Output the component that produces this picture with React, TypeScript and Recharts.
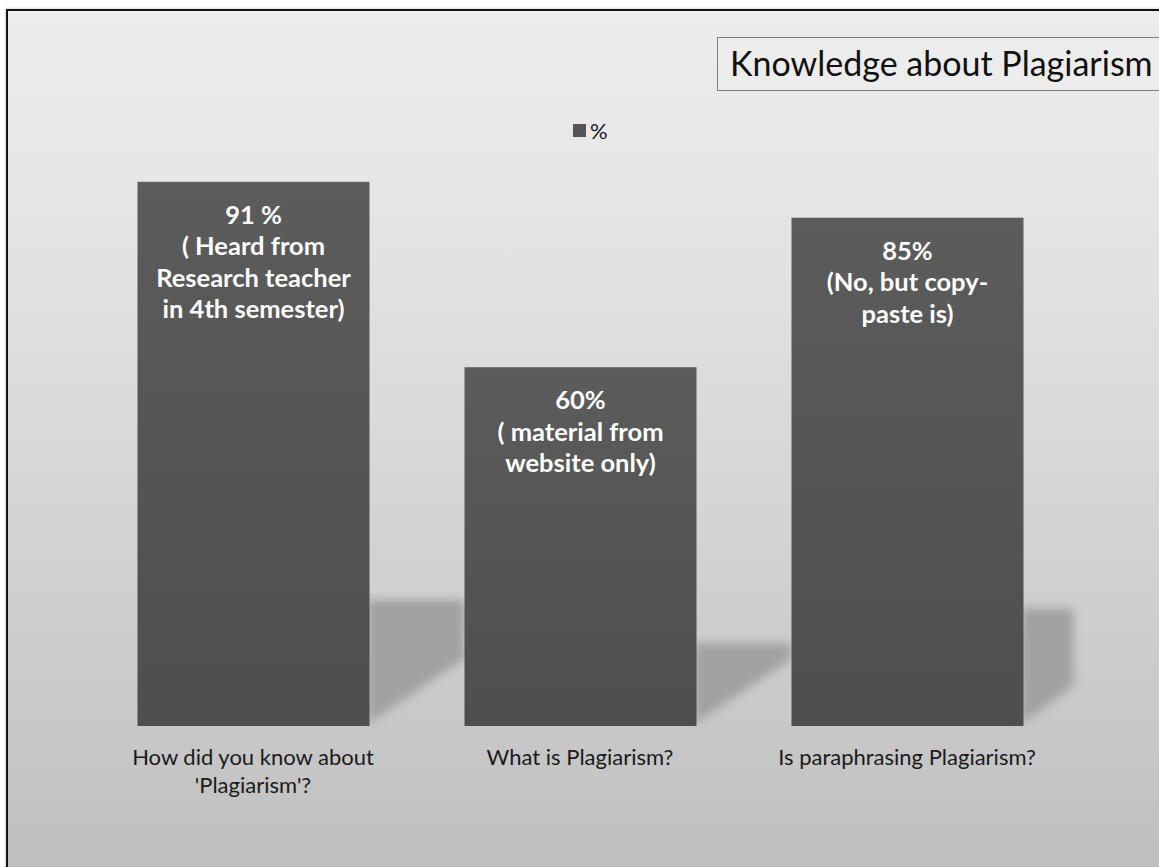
import { BarChart, Bar, XAxis, YAxis, Legend, LabelList } from "recharts";

const questions = [
  "How did you know about 'Plagiarism'?",
  "What is Plagiarism?",
  "Is paraphrasing Plagiarism?",
];
const questionLines = [
  ["How did you know about", "'Plagiarism'?"],
  ["What is Plagiarism?"],
  ["Is paraphrasing Plagiarism?"],
];
const percents = [91, 60, 85];
const barNotes = [
  ["91 %", "( Heard from", "Research teacher", "in 4th semester)"],
  ["60%", "( material from", "website only)"],
  ["85%", "(No, but copy-", "paste is)"],
];
const yTicks = [0, 20, 40, 60, 80, 100];

const data = questions.map((q, i) => ({
  question: q,
  value: percents[i],
  idx: i,
}));

const W = 1159;
const H = 867;
const PLOT_LEFT = 89.5;
const PLOT_RIGHT = 1070.5;
const PLOT_TOP = 128;
const PLOT_BOTTOM = 726;
const X_AXIS_H = 30;

function ShadowBar(props: any) {
  const { x, y, width, height } = props;
  const r = x + width;
  const b = y + height;
  const d = Math.min(95, PLOT_RIGHT + 3 - r);
  const sTop = b - height * 0.232;
  const points = [
    [r - 2, sTop],
    [r + d, sTop],
    [r + d, b - 10 - d * 0.6],
    [r + 4, b - 6],
    [r - 2, b],
  ]
    .map((p) => p.join(","))
    .join(" ");
  return (
    <g>
      <polygon points={points} fill="#a2a2a2" filter="url(#shadowBlur)" />
      <rect x={x} y={y} width={width} height={height} fill="url(#barFill)" />
    </g>
  );
}

function BarNote(props: any) {
  const { x, y, width, index } = props;
  const lines = barNotes[index] || [];
  return (
    <text
      x={x + width / 2}
      y={y + 32}
      textAnchor="middle"
      fill="#ffffff"
      fontFamily="Lato, 'Open Sans', sans-serif"
      fontWeight={700}
      fontSize={25.5}
    >
      {lines.map((l, i) => (
        <tspan key={i} x={x + width / 2} dy={i === 0 ? 0 : 31.5} dominantBaseline="central">
          {l}
        </tspan>
      ))}
    </text>
  );
}

function QuestionTick(props: any) {
  const { x, y, payload } = props;
  const lines = questionLines[payload.index] || [payload.value];
  return (
    <text
      x={x}
      y={y}
      textAnchor="middle"
      fill="#1a1a1a"
      fontFamily="Lato, 'Open Sans', sans-serif"
      fontSize={22}
    >
      {lines.map((l, i) => (
        <tspan key={i} x={x} dy={i === 0 ? 31 : 28}>
          {l}
        </tspan>
      ))}
    </text>
  );
}

function LegendBox() {
  return (
    <div
      style={{
        display: "flex",
        alignItems: "center",
        fontFamily: "Lato, 'Open Sans', sans-serif",
        fontSize: 22,
        color: "#1a1a1a",
      }}
    >
      <span
        style={{
          display: "inline-block",
          width: 13,
          height: 13,
          background: "#555555",
          marginRight: 4,
        }}
      />
      %
    </div>
  );
}

export default function App() {
  return (
    <div
      style={{
        position: "absolute",
        left: 0,
        top: 0,
        width: W,
        height: H,
        background: "#ffffff",
        overflow: "hidden",
      }}
    >
      <div
        style={{
          position: "absolute",
          left: 6,
          top: 9,
          width: W + 20,
          height: H + 20,
          border: "2px solid #111111",
          boxShadow: "0 0 3px rgba(0,0,0,0.25)",
          background:
            "linear-gradient(to bottom, #ececec 0%, #e8e8e8 15%, #dfdfdf 35%, #d0d0d0 65%, #c6c6c6 85%, #bcbcbc 100%)",
        }}
      />
      <div
        style={{
          position: "absolute",
          left: 717,
          top: 37,
          width: 500,
          height: 54,
          border: "1px solid #808080",
          background: "#ececec",
          boxSizing: "border-box",
          paddingLeft: 12,
          lineHeight: "50px",
          fontFamily: "Lato, 'Open Sans', sans-serif",
          fontSize: 34,
          color: "#111111",
          whiteSpace: "nowrap",
        }}
      >
        Knowledge about Plagiarism
      </div>
      <div style={{ position: "absolute", left: 0, top: 0 }}>
        <BarChart
          width={W}
          height={H}
          data={data}
          margin={{
            top: PLOT_TOP,
            left: PLOT_LEFT,
            right: W - PLOT_RIGHT,
            bottom: H - PLOT_BOTTOM - X_AXIS_H,
          }}
          barSize={232}
        >
          <defs>
            <linearGradient id="barFill" x1="0" y1="0" x2="0" y2="1">
              <stop offset="0%" stopColor="#5c5c5c" />
              <stop offset="100%" stopColor="#4e4e4e" />
            </linearGradient>
            <filter id="shadowBlur" x="-20%" y="-20%" width="140%" height="140%">
              <feGaussianBlur stdDeviation="5" />
            </filter>
          </defs>
          <XAxis
            dataKey="question"
            axisLine={false}
            tickLine={false}
            interval={0}
            height={X_AXIS_H}
            tick={<QuestionTick />}
          />
          <YAxis hide domain={[0, 100]} ticks={yTicks} />
          <Legend
            layout="horizontal"
            verticalAlign="middle"
            align="center"
            content={<LegendBox />}
            wrapperStyle={{ position: "absolute", top: 117, left: 573, width: 60 }}
          />
          <Bar
            dataKey="value"
            name="%"
            shape={<ShadowBar />}
            isAnimationActive={false}
          >
            <LabelList dataKey="value" content={<BarNote />} />
          </Bar>
        </BarChart>
      </div>
    </div>
  );
}
